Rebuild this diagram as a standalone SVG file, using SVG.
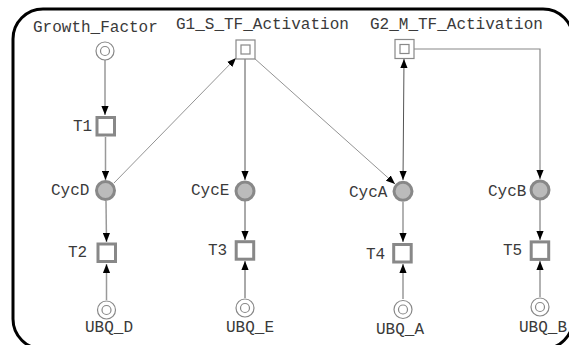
<svg xmlns="http://www.w3.org/2000/svg" width="569" height="345" viewBox="0 0 569 345">
<defs>
<marker id="ah" viewBox="0 0 10 8" markerWidth="9" markerHeight="7.5" refX="10" refY="4" orient="auto" markerUnits="userSpaceOnUse"><path d="M0,0 L10,4 L0,8 z" fill="#000"/></marker>
<marker id="ahs" viewBox="0 0 10 8" markerWidth="9" markerHeight="7.5" refX="0" refY="4" orient="auto" markerUnits="userSpaceOnUse"><path d="M10,0 L0,4 L10,8 z" fill="#000"/></marker>
</defs>
<style>
text{font-family:"Liberation Mono","Courier New",monospace;font-size:16px;fill:#3a3a3a}
.tr{fill:#fff;stroke:#888;stroke-width:3}
.pl{fill:#bbb;stroke:#888;stroke-width:3}
.so{fill:#fff;stroke:#888;stroke-width:1.2}
.tf{fill:#fff;stroke:#888;stroke-width:1.2}
.e{fill:none;stroke:#999;stroke-width:1.5;marker-end:url(#ah)}
.ed{fill:none;stroke:#555;stroke-width:1;marker-end:url(#ah)}
.et{fill:none;stroke:#777;stroke-width:0.8;marker-end:url(#ah)}
</style>
<rect x="13" y="9" width="560" height="340" rx="30" ry="30" fill="#fff" stroke="#000" stroke-width="3"/>
<g id="connectors">
<line class="e" x1="105" y1="60" x2="105" y2="115"/>
<line class="e" x1="105.5" y1="137" x2="105.5" y2="180"/>
<line class="et" x1="114" y1="183" x2="236" y2="58"/>
<line class="ed" x1="245" y1="59" x2="245" y2="180"/>
<line class="et" x1="254" y1="58" x2="395" y2="184"/>
<line class="ed" x1="403" y1="180" x2="404" y2="59" style="marker-start:url(#ahs)"/>
<path class="e" d="M414,49 H540 V179" style="stroke:#888;stroke-width:1.2"/>
<line class="e" x1="106" y1="201" x2="106.5" y2="242"/>
<line class="e" x1="106.5" y1="300" x2="106.5" y2="264"/>
<line class="ed" x1="245" y1="201" x2="245" y2="240"/>
<line class="ed" x1="245" y1="298" x2="245" y2="261"/>
<line class="e" x1="403" y1="202" x2="403" y2="242"/>
<line class="e" x1="403" y1="299" x2="403" y2="264"/>
<line class="e" x1="540" y1="200" x2="540" y2="240"/>
<line class="e" x1="540" y1="297" x2="540" y2="261"/>
</g>
<g id="Growth_Factor"><circle class="so" cx="105" cy="51" r="9"/><circle class="so" cx="105" cy="51" r="4.5"/><text x="33" y="32">Growth_Factor</text></g>
<g id="G1_S_TF_Activation"><rect class="tf" x="236" y="40" width="19" height="19"/><rect class="tf" x="241" y="45" width="9" height="9"/><text x="176" y="29">G1_S_TF_Activation</text></g>
<g id="G2_M_TF_Activation"><rect class="tf" x="395" y="39.5" width="19" height="19"/><rect class="tf" x="400" y="44.5" width="9" height="9"/><text x="370" y="29">G2_M_TF_Activation</text></g>
<g id="T1"><rect class="tr" x="97" y="117.5" width="17.5" height="17.5"/><text x="73" y="131">T1</text></g>
<g id="CycD"><circle class="pl" cx="105.5" cy="190.5" r="9"/><text x="51" y="195">CycD</text></g>
<g id="CycE"><circle class="pl" cx="245" cy="191" r="9"/><text x="191" y="195">CycE</text></g>
<g id="CycA"><circle class="pl" cx="403" cy="191.3" r="9"/><text x="349" y="197">CycA</text></g>
<g id="CycB"><circle class="pl" cx="540" cy="190" r="9"/><text x="488" y="196">CycB</text></g>
<g id="T2"><rect class="tr" x="98" y="244" width="17.5" height="17.5"/><text x="68" y="257">T2</text></g>
<g id="T3"><rect class="tr" x="236.2" y="241.7" width="17.5" height="17.5"/><text x="208" y="255">T3</text></g>
<g id="T4"><rect class="tr" x="393.7" y="244.5" width="17.5" height="17.5"/><text x="366" y="259">T4</text></g>
<g id="T5"><rect class="tr" x="531.2" y="241.9" width="17.5" height="17.5"/><text x="503" y="255">T5</text></g>
<g id="UBQ_D"><circle class="so" cx="106.5" cy="310" r="9"/><circle class="so" cx="106.5" cy="310" r="4.5"/><text x="85" y="332">UBQ_D</text></g>
<g id="UBQ_E"><circle class="so" cx="245" cy="308" r="9"/><circle class="so" cx="245" cy="308" r="4.5"/><text x="226" y="332">UBQ_E</text></g>
<g id="UBQ_A"><circle class="so" cx="403" cy="309.5" r="9"/><circle class="so" cx="403" cy="309.5" r="4.5"/><text x="376" y="334">UBQ_A</text></g>
<g id="UBQ_B"><circle class="so" cx="540" cy="307" r="9"/><circle class="so" cx="540" cy="307" r="4.5"/><text x="519" y="332">UBQ_B</text></g>
</svg>
